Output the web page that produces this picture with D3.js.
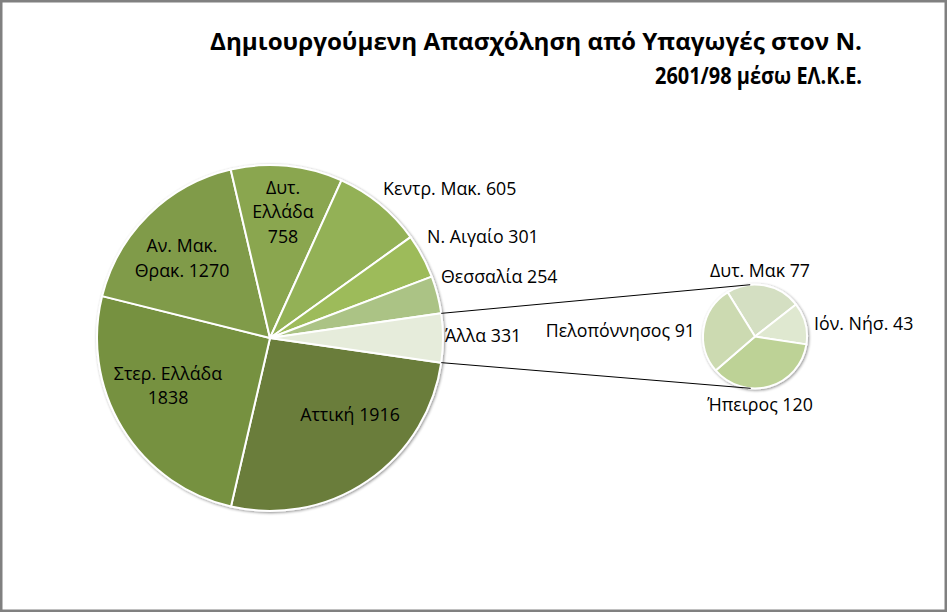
<!DOCTYPE html>
<html><head><meta charset="utf-8">
<script src="https://cdn.jsdelivr.net/npm/d3@7"></script>
<style>
html,body{margin:0;padding:0;background:#fff;}
svg{display:block;font-family:"Open Sans",sans-serif;}
</style></head>
<body>
<svg id="c" width="947" height="612"></svg>
<script>
// ---- data ----
const titleLines = ["Δημιουργούμενη Απασχόληση από Υπαγωγές στον Ν.", "2601/98 μέσω ΕΛ.Κ.Ε."];
const mainCategories = ["Αττική", "Στερ. Ελλάδα", "Αν. Μακ. Θρακ.", "Δυτ. Ελλάδα", "Κεντρ. Μακ.", "Ν. Αιγαίο", "Θεσσαλία", "Άλλα"];
const mainValues = [1916, 1838, 1270, 758, 605, 301, 254, 331];
const subCategories = ["Δυτ. Μακ", "Ιόν. Νήσ.", "Ήπειρος", "Πελοπόννησος"];
const subValues = [77, 43, 120, 91];

const mainColors = ["#6a7d3a", "#76913f", "#809b48", "#8aa650", "#93b157", "#9dbb5a", "#abc385", "#e6ecdb"];
const subColors = ["#d4dfc2", "#dfe8d0", "#bdd296", "#ccdab1"];

// label layout: lines of text, position relative to pie centre, anchor
const mainLabels = [
  {lines:["Αττική 1916"], dx:80, dy:77, anchor:"middle"},
  {lines:["Στερ. Ελλάδα","1838"], dx:-102, dy:48, anchor:"middle"},
  {lines:["Αν. Μακ.","Θρακ. 1270"], dx:-88, dy:-79.5, anchor:"middle"},
  {lines:["Δυτ.","Ελλάδα","758"], dx:13, dy:-126, anchor:"middle"},
  {lines:["Κεντρ. Μακ. 605"], dx:113, dy:-149, anchor:"start"},
  {lines:["Ν. Αιγαίο 301"], dx:157, dy:-101, anchor:"start"},
  {lines:["Θεσσαλία 254"], dx:171, dy:-61, anchor:"start"},
  {lines:["Άλλα 331"], dx:175, dy:-2, anchor:"start"}
];
const subLabels = [
  {lines:["Δυτ. Μακ 77"], dx:5, dy:-65.5, anchor:"middle"},
  {lines:["Ιόν. Νήσ. 43"], dx:59, dy:-12.5, anchor:"start"},
  {lines:["Ήπειρος 120"], dx:5, dy:68.5, anchor:"middle"},
  {lines:["Πελοπόννησος 91"], dx:-60, dy:-5.5, anchor:"end"}
];

// ---- layout ----
const W = 947, H = 612;
const svg = d3.select("#c");
const deg = Math.PI/180;

const defs = svg.append("defs");
const f = defs.append("filter").attr("id","sh").attr("x","-20%").attr("y","-20%").attr("width","140%").attr("height","140%");
f.append("feGaussianBlur").attr("in","SourceAlpha").attr("stdDeviation",1.6).attr("result","b");
f.append("feOffset").attr("in","b").attr("dx",0.5).attr("dy",1).attr("result","o");
f.append("feComponentTransfer").attr("in","o").attr("result","o2").append("feFuncA").attr("type","linear").attr("slope",0.45);
const fm = f.append("feMerge");
fm.append("feMergeNode").attr("in","o2");
fm.append("feMergeNode").attr("in","SourceGraphic");

svg.append("rect").attr("x",1.25).attr("y",1.25).attr("width",W-2.5).attr("height",H-2.5)
  .attr("fill","#fff").attr("stroke","#808080").attr("stroke-width",2.5);

// title
const titleWidths = [652, 207];
const titleBase = [50, 84];
titleLines.forEach((t,i)=>{
  svg.append("text").attr("text-anchor","end").attr("font-weight","bold")
    .attr("font-size",22.5).attr("fill","#000")
    .attr("x",862).attr("y",titleBase[i])
    .attr("textLength",titleWidths[i]).attr("lengthAdjust","spacingAndGlyphs")
    .text(t);
});

// main pie
const mc = {x:270, y:338}, mr = 173;
const total = d3.sum(mainValues);
const otherSpan = mainValues[mainValues.length-1]/total*2*Math.PI;
const mainStart = Math.PI/2 + otherSpan/2;
const mainPie = d3.pie().sort(null).startAngle(mainStart).endAngle(mainStart + 2*Math.PI);
const mainArcs = mainPie(mainValues);
const arc = d3.arc().innerRadius(0).outerRadius(mr);

const gMain = svg.append("g").attr("transform",`translate(${mc.x},${mc.y})`);
gMain.append("g").attr("filter","url(#sh)").selectAll("path").data(mainArcs).join("path")
  .attr("d",arc).attr("fill",(d,i)=>mainColors[i])
  .attr("stroke","#fff").attr("stroke-width",2).attr("stroke-linejoin","round");

// secondary pie
const sc = {x:755, y:336.5}, sr = 52;
const subPie = d3.pie().sort(null).startAngle(-31.8*deg).endAngle(-31.8*deg + 2*Math.PI);
const subArcs = subPie(subValues);
const sarc = d3.arc().innerRadius(0).outerRadius(sr);
const gSub = svg.append("g").attr("transform",`translate(${sc.x},${sc.y})`);
gSub.append("g").attr("filter","url(#sh)").selectAll("path").data(subArcs).join("path")
  .attr("d",sarc).attr("fill",(d,i)=>subColors[i])
  .attr("stroke","#fff").attr("stroke-width",2).attr("stroke-linejoin","round");

// connector lines: from edges of "Άλλα" slice to tangent points on the secondary pie
const other = mainArcs[mainArcs.length-1];
function pt(a, r, c){ return [c.x + r*Math.sin(a), c.y - r*Math.cos(a)]; }
function tangent(P, C, r, side){
  const dx = C.x-P[0], dy = C.y-P[1], d = Math.hypot(dx,dy);
  const base = Math.atan2(dy,dx);
  const a = Math.asin(r/d);
  const dir = base + side*a;
  const L = Math.sqrt(d*d - r*r);
  return [P[0] + L*Math.cos(dir), P[1] + L*Math.sin(dir)];
}
const pUp = pt(other.startAngle, mr, mc), pDn = pt(other.endAngle, mr, mc);
const tUp = tangent(pUp, sc, sr, -1), tDn = tangent(pDn, sc, sr, 1);
svg.append("line").attr("x1",pUp[0]).attr("y1",pUp[1]).attr("x2",tUp[0]).attr("y2",tUp[1])
  .attr("stroke","#000").attr("stroke-width",1);
svg.append("line").attr("x1",pDn[0]).attr("y1",pDn[1]).attr("x2",tDn[0]).attr("y2",tDn[1])
  .attr("stroke","#000").attr("stroke-width",1);

// labels
function drawLabels(labels, c){
  labels.forEach(l=>{
    const n = l.lines.length, lh = 24.5;
    const t = svg.append("text").attr("text-anchor",l.anchor).attr("font-size",17.8).attr("fill","#000");
    l.lines.forEach((s,i)=>{
      t.append("tspan").attr("x",c.x+l.dx).attr("y",c.y+l.dy + (i-(n-1)/2)*lh).attr("dy","0.35em").text(s);
    });
  });
}
drawLabels(mainLabels, mc);
drawLabels(subLabels, sc);
</script>
</body></html>
